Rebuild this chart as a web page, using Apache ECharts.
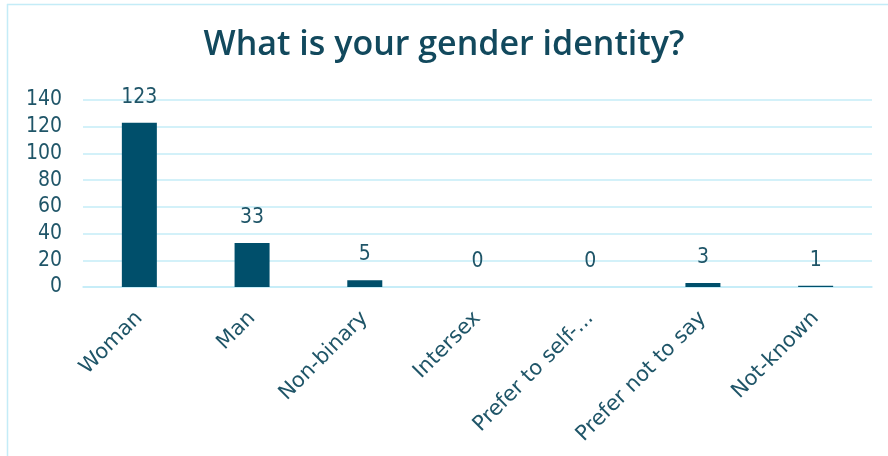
<!DOCTYPE html>
<html>
<head>
<meta charset="utf-8">
<script src="https://cdn.jsdelivr.net/npm/echarts@6/dist/echarts.min.js"></script>
<style>
  html, body { margin: 0; padding: 0; background: #fff; }
  #main { width: 888px; height: 456px; }
</style>
</head>
<body>
<div id="main"></div>
<script>
// categories and counts
var categories = ['Woman', 'Man', 'Non-binary', 'Intersex', 'Prefer to self-...', 'Prefer not to say', 'Not-known'];
var counts = [123, 33, 5, 0, 0, 3, 1];
var yTicks = [0, 20, 40, 60, 80, 100, 120, 140];

var textColor = '#1f5568';
var barColor = '#004f6b';
var lineColor = '#c4ecf7';
var narrow = '"DejaVu Sans Condensed", sans-serif';

var chart = echarts.init(document.getElementById('main'));

var option = {
  backgroundColor: '#fff',
  animation: false,
  title: {
    text: 'What is your gender identity?',
    left: 'center',
    top: 23,
    textStyle: {
      color: '#12495d',
      fontFamily: '"Open Sans", sans-serif',
      fontWeight: 600,
      fontSize: 34
    }
  },
  // thin frame on top and left, like the source
  graphic: [
    { type: 'line', shape: { x1: 7, y1: 4.5, x2: 888, y2: 4.5 }, style: { stroke: lineColor, lineWidth: 1.5 } },
    { type: 'line', shape: { x1: 7.5, y1: 4, x2: 7.5, y2: 456 }, style: { stroke: lineColor, lineWidth: 1.5 } }
  ],
  grid: {
    left: 83,
    right: 16,
    top: 100,
    bottom: 169
  },
  xAxis: {
    type: 'category',
    data: categories,
    axisLine: { show: true, lineStyle: { color: lineColor, width: 1.5 } },
    axisTick: { show: false },
    axisLabel: {
      rotate: 45,
      margin: 28,
      color: textColor,
      fontFamily: 'Verdana, "DejaVu Sans", sans-serif',
      fontSize: 21
    }
  },
  yAxis: {
    type: 'value',
    min: yTicks[0],
    max: yTicks[yTicks.length - 1],
    interval: 20,
    axisLine: { show: false },
    axisTick: { show: false },
    splitLine: { lineStyle: { color: lineColor, width: 1.5 } },
    axisLabel: {
      color: textColor,
      fontFamily: narrow,
      fontSize: 21,
      margin: 21
    }
  },
  series: [{
    type: 'bar',
    data: counts,
    barWidth: 35,
    itemStyle: { color: barColor },
    label: {
      show: true,
      position: 'top',
      distance: 15,
      color: textColor,
      fontFamily: narrow,
      fontSize: 21
    }
  }]
};

chart.setOption(option);
</script>
</body>
</html>
